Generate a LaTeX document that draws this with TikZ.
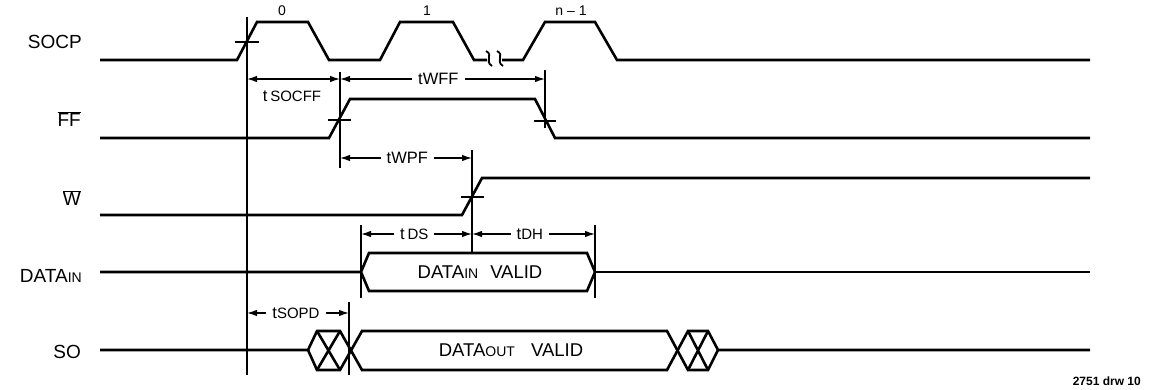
\documentclass[tikz,border=0pt]{standalone}
\usepackage{fontspec}
\setmainfont{Liberation Sans}
\usetikzlibrary{arrows.meta}
\newcommand{\fs}[1]{\fontsize{#1}{#1}\selectfont}
\begin{document}
\begin{tikzpicture}[x=1pt,y=-1pt,
        sig/.style={line width=2.6pt, line join=miter},
        guide/.style={line width=1.3pt},
        dim/.style={line width=1.3pt, {Latex[length=10pt,width=6.5pt]}-{Latex[length=10pt,width=6.5pt]}},
        signame/.style={anchor=east, inner sep=0pt, font=\fs{19}},
        tlabel/.style={fill=white, inner xsep=6pt, inner ysep=2pt, font=\fs{16.5}},
        count/.style={inner sep=0pt, font=\fs{14}}]
    \useasboundingbox (0,0) rectangle (1156,390);

    \node[signame] (socp) at (82,42) {SOCP};
    \node[signame] (ff) at (81,119) {$\overline{\hbox{FF}}$};
    \node[signame] (w) at (81,198) {$\overline{\hbox{W}}$};
    \node[signame] (datain) at (82,276) {DATA{\fs{14}IN}};
    \node[signame] (so) at (81,352) {SO};

    \draw[sig] (100,60) -- (237,60) -- (257,22) -- (308,22) -- (329,60) -- (380,60) -- (400,22) -- (453,22) -- (474,60) -- (487,60);
    \draw[line width=1.8pt] (486,51) .. controls (494,55) and (484,61) .. (492,66);
    \draw[line width=1.8pt] (497,51) .. controls (505,55) and (495,61) .. (503,66);
    \draw[sig] (502,60) -- (523,60) -- (545,22) -- (595,22) -- (617,60) -- (1090,60);
    \node[count] (p0) at (282,11) {0};
    \node[count] (p1) at (427,11) {1};
    \node[count] (pn) at (571,11) {n -- 1};

    \draw[sig] (100,138) -- (329,138) -- (350,99) -- (535,99) -- (555,138) -- (1090,138);
    \draw[sig] (100,215) -- (462,215) -- (482,178) -- (1090,178);

    \draw[sig] (100,272) -- (361,272) -- (369,253) -- (587,253) -- (595,272) -- (587,291) -- (369,291) -- (361,272);
    \draw[sig] (595,272) -- (1090,272);
    \node (dinvalid) at (480,272) {\fs{18.5}DATA{\fs{14}IN}\hspace{12pt}VALID};

    \draw[sig] (100,350) -- (308,350) -- (317,331) -- (340,331) -- (362,370) -- (667,370) -- (688,331) -- (708,331) -- (718,350) -- (1090,350);
    \draw[sig] (308,350) -- (317,370) -- (340,370) -- (362,331) -- (667,331) -- (688,370) -- (708,370) -- (718,350);
    \draw[sig] (317,331) -- (340,370) (317,370) -- (340,331);
    \draw[sig] (688,331) -- (708,370) (688,370) -- (708,331);
    \node (doutvalid) at (511,350) {\fs{18.5}DATA{\fs{14}OUT}\hspace{16pt}VALID};

    \draw[guide] (247,17) -- (247,375);
    \draw[guide] (340,72) -- (340,168);
    \draw[guide] (545,70) -- (545,128);
    \draw[guide] (472,150) -- (472,252);
    \draw[guide] (361,225) -- (361,298);
    \draw[guide] (595,225) -- (595,298);
    \draw[guide] (349,302) -- (349,375);
    \draw[guide] (235,42) -- (259,42);
    \draw[guide] (328,120) -- (351,120);
    \draw[guide] (534,121) -- (556,121);
    \draw[guide] (461,197) -- (484,197);

    \coordinate (a1) at (247,79);
    \coordinate (a2) at (340,79);
    \coordinate (a3) at (545,79);
    \coordinate (b1) at (340,158);
    \coordinate (b2) at (472,158);
    \coordinate (c1) at (361,234);
    \coordinate (c2) at (472,234);
    \coordinate (c3) at (595,234);
    \coordinate (d1) at (247,313);
    \coordinate (d2) at (349,313);

    \draw[dim] (a1) -- (a2);
    \node[font=\fs{16.5}] (tsocff) at (292,96) {t\,{\fs{15}SOCFF}};
    \draw[dim] (a2) -- node[tlabel, pos=0.48] (twff) {tWFF} (a3);
    \draw[dim] (b1) -- node[tlabel, pos=0.51] (twpf) {tWPF} (b2);
    \draw[dim] (c1) -- node[tlabel, pos=0.48] (tds) {t\,{\fs{15}DS}} (c2);
    \draw[dim] (c2) -- node[tlabel, pos=0.47] (tdh) {t{\fs{15}DH}} (c3);
    \draw[dim] (d1) -- node[tlabel, pos=0.48] (tsopd) {t{\fs{15}SOPD}} (d2);

    \node[anchor=east, inner sep=0pt, font=\bfseries\fs{12}] (drw) at (1141,381) {2751 drw 10};
\end{tikzpicture}
\end{document}
